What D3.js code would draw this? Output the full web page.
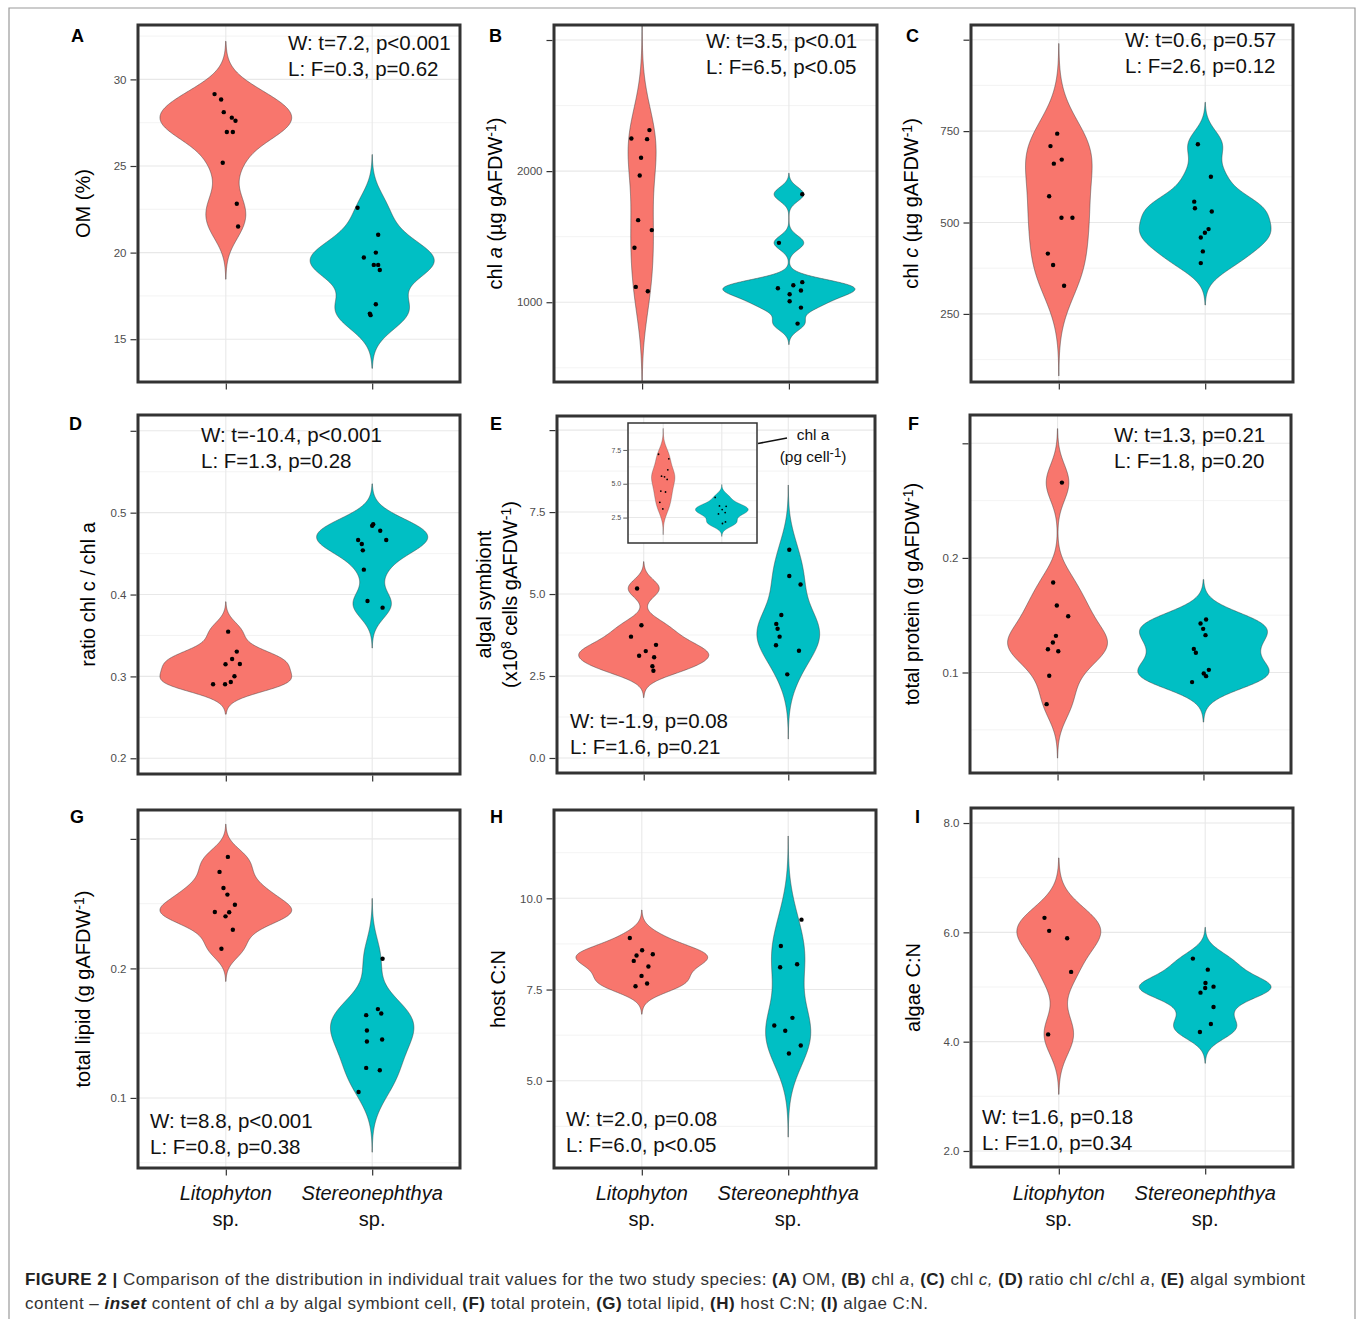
<!DOCTYPE html>
<html>
<head>
<meta charset="utf-8">
<script src="https://cdn.jsdelivr.net/npm/d3@7"></script>
<style>
  body { margin: 0; background: #fff; }
  svg { display: block; }
  text { font-family: "Liberation Sans", Arial, Helvetica, sans-serif; }
</style>
</head>
<body>
<script>
const width = 1358, height = 1319;
const species = ['Litophyton', 'Stereonephthya'];
const fills = ['#F8766D', '#00BFC4'];

// A: OM (%)
const omLito = [29.15, 28.84, 28.11, 27.79, 27.61, 26.96, 26.96, 25.19, 22.82, 21.51];
const omLitoJit = [-0.077, -0.032, -0.014, 0.041, 0.066, 0.007, 0.048, -0.021, 0.075, 0.084];
const omStereo = [22.59, 21.03, 20.0, 19.72, 19.29, 19.29, 19.0, 17.02, 16.48, 16.39];
const omStereoJit = [-0.100, 0.041, 0.025, -0.057, 0.011, 0.041, 0.052, 0.025, -0.016, -0.011];

// B: chl a
const chlaLito = [2249, 2313, 2244, 2102, 1967, 1626, 1550, 1415, 1117, 1084];
const chlaLitoJit = [-0.073, 0.05, 0.034, -0.007, -0.016, -0.027, 0.066, -0.052, -0.043, 0.039];
const chlaStereo = [1824, 1453, 1107, 1130, 1153, 1089, 1061, 1008, 959, 837];
const chlaStereoJit = [0.091, -0.068, -0.075, 0.030, 0.091, 0.082, 0.005, 0.005, 0.082, 0.059];

// C: chl c
const chlcLito = [743, 709, 672, 661, 572, 513, 513, 415, 384, 327];
const chlcLitoJit = [-0.011, -0.057, 0.020, -0.034, -0.066, 0.018, 0.093, -0.075, -0.039, 0.036];
const chlcStereo = [714, 625, 557, 539, 530, 482, 472, 459, 421, 389];
const chlcStereoJit = [-0.05, 0.039, -0.075, -0.07, 0.045, 0.023, -0.002, -0.03, -0.016, -0.03];

// D: ratio chl c / chl a
const ratioLito = [0.3547, 0.3303, 0.3213, 0.3148, 0.3152, 0.3002, 0.2932, 0.2904, 0.2904];
const ratioLitoJit = [0.016, 0.075, 0.043, -0.002, 0.096, 0.059, 0.034, -0.087, -0.005];
const ratioStereo = [0.4858, 0.4841, 0.478, 0.4666, 0.4666, 0.4617, 0.454, 0.4304, 0.3921, 0.384];
const ratioStereoJit = [0.007, 0, 0.055, 0.096, -0.096, -0.071, -0.064, -0.057, -0.032, 0.071];

// E: algal symbiont
const symLito = [5.17, 4.05, 3.70, 3.45, 3.26, 3.12, 3.07, 2.80, 2.66];
const symLitoJit = [-0.046, -0.016, -0.088, 0.085, 0.014, -0.032, 0.072, 0.06, 0.067];
const symStereo = [6.35, 5.55, 5.29, 4.36, 4.09, 3.94, 3.70, 3.44, 3.27, 2.55];
const symStereoJit = [0.007, 0.007, 0.085, -0.048, -0.083, -0.074, -0.06, -0.085, 0.074, -0.007];

// E inset: chl a per cell
const cellLito = [7.18, 6.84, 6.03, 5.56, 5.51, 5.32, 4.46, 4.39, 3.63, 3.14];
const cellLitoJit = [-0.079, 0.096, 0.079, -0.028, 0.023, 0.068, -0.04, 0.04, -0.057, -0.006];
const cellStereo = [3.99, 3.36, 3.33, 3.09, 2.87, 2.77, 2.18, 2.06];
const cellStereoJit = [-0.113, -0.040, 0.074, 0.006, 0.057, -0.057, 0.062, 0.011];

// F: total protein
const protLito = [0.2657, 0.1785, 0.1584, 0.1491, 0.132, 0.1262, 0.1203, 0.1186, 0.0971, 0.0724];
const protLitoJit = [0.03, -0.03, -0.005, 0.073, -0.011, -0.032, -0.066, 0.005, -0.057, -0.075];
const protStereo = [0.1462, 0.1427, 0.1381, 0.1326, 0.1206, 0.1172, 0.1023, 0.0991, 0.0968, 0.0916];
const protStereoJit = [0.018, -0.02, -0.002, 0.014, -0.066, -0.052, 0.037, 0.002, 0.018, -0.078];

// G: total lipid
const lipLito = [0.2861, 0.2745, 0.2621, 0.257, 0.2492, 0.2436, 0.2433, 0.2402, 0.2299, 0.2152];
const lipLitoJit = [0.014, -0.043, -0.016, 0.011, 0.062, -0.075, 0.023, -0.002, 0.048, -0.03];
const lipStereo = [0.2075, 0.1686, 0.1652, 0.1639, 0.1521, 0.1436, 0.1451, 0.1232, 0.1214, 0.1046];
const lipStereoJit = [0.071, 0.039, 0.062, -0.041, -0.036, -0.036, 0.068, -0.041, 0.052, -0.093];

// H: host C:N
const hostLito = [8.914, 8.577, 8.431, 8.467, 8.285, 8.13, 7.874, 7.664, 7.591];
const hostLitoJit = [-0.082, 0.002, -0.036, 0.075, -0.055, 0.045, -0.002, 0.036, -0.043];
const hostStereo = [9.416, 8.695, 8.111, 8.193, 6.724, 6.515, 6.369, 5.967, 5.748];
const hostStereoJit = [0.091, -0.05, -0.055, 0.061, 0.029, -0.095, -0.02, 0.086, 0.005];

// I: algae C:N
const algLito = [6.265, 6.027, 5.892, 5.276, 4.133];
const algLitoJit = [-0.098, -0.066, 0.057, 0.084, -0.073];
const algStereo = [5.52, 5.318, 5.074, 5.007, 4.982, 4.897, 4.634, 4.322, 4.176];
const algStereoJit = [-0.084, 0.018, 0.002, 0.057, 0, -0.032, 0.057, 0.039, -0.036];

// axis ticks (major with labels, minor grid)
const ticksA = [15, 20, 25, 30], labelsA = ['15', '20', '25', '30'], minorA = [17.5, 22.5, 27.5, 32.5];
const ticksB = [1000, 2000, 3000], labelsB = ['1000', '2000', ''], minorB = [500, 1500, 2500];
const ticksC = [250, 500, 750, 1000], labelsC = ['250', '500', '750', ''], minorC = [125, 375, 625, 875];
const ticksD = [0.2, 0.3, 0.4, 0.5, 0.6], labelsD = ['0.2', '0.3', '0.4', '0.5', ''], minorD = [0.25, 0.35, 0.45, 0.55];
const ticksE = [0, 2.5, 5, 7.5, 10], labelsE = ['0.0', '2.5', '5.0', '7.5', ''], minorE = [1.25, 3.75, 6.25, 8.75];
const ticksInset = [2.5, 5, 7.5], labelsInset = ['2.5', '5.0', '7.5'], minorInset = [1.25, 3.75, 6.25, 8.75];
const ticksF = [0.1, 0.2, 0.3], labelsF = ['0.1', '0.2', ''], minorF = [0.05, 0.15, 0.25];
const ticksG = [0.1, 0.2, 0.3], labelsG = ['0.1', '0.2', ''], minorG = [0.05, 0.15, 0.25];
const ticksH = [5, 7.5, 10], labelsH = ['5.0', '7.5', '10.0'], minorH = [3.75, 6.25, 8.75, 11.25];
const ticksI = [2, 4, 6, 8], labelsI = ['2.0', '4.0', '6.0', '8.0'], minorI = [3, 5, 7];

// test results
const statA = ['W: t=7.2, p<0.001', 'L: F=0.3, p=0.62'];
const statB = ['W: t=3.5, p<0.01', 'L: F=6.5, p<0.05'];
const statC = ['W: t=0.6, p=0.57', 'L: F=2.6, p=0.12'];
const statD = ['W: t=-10.4, p<0.001', 'L: F=1.3, p=0.28'];
const statE = ['W: t=-1.9, p=0.08', 'L: F=1.6, p=0.21'];
const statF = ['W: t=1.3, p=0.21', 'L: F=1.8, p=0.20'];
const statG = ['W: t=8.8, p<0.001', 'L: F=0.8, p=0.38'];
const statH = ['W: t=2.0, p=0.08', 'L: F=6.0, p<0.05'];
const statI = ['W: t=1.6, p=0.18', 'L: F=1.0, p=0.34'];

// y labels as rich-text segments: i = italic, s = superscript
const gAFDW = [{t: ' (µg gAFDW'}, {t: '-1', s: true}, {t: ')'}];
const ylabA = [[{t: 'OM (%)'}]];
const ylabB = [[{t: 'chl '}, {t: 'a', i: true}, ...gAFDW]];
const ylabC = [[{t: 'chl '}, {t: 'c', i: true}, ...gAFDW]];
const ylabD = [[{t: 'ratio chl c / chl a'}]];
const ylabE = [[{t: 'algal symbiont'}], [{t: '(x10'}, {t: '8', s: true}, {t: ' cells gAFDW'}, {t: '-1', s: true}, {t: ')'}]];
const ylabF = [[{t: 'total protein (g gAFDW'}, {t: '-1', s: true}, {t: ')'}]];
const ylabG = [[{t: 'total lipid (g gAFDW'}, {t: '-1', s: true}, {t: ')'}]];
const ylabH = [[{t: 'host C:N'}]];
const ylabI = [[{t: 'algae C:N'}]];

const panels = [
  {id: 'A', groups: [[omLito, omLitoJit], [omStereo, omStereoJit]], domain: [12.53, 33.14], ticks: ticksA, labels: labelsA, minor: minorA, stat: statA, ylab: ylabA,
   box: [138, 460, 25, 382], letter: [71, 42], labX: [83], statPos: [288, 50]},
  {id: 'B', groups: [[chlaLito, chlaLitoJit], [chlaStereo, chlaStereoJit]], domain: [391.6, 3114.5], ticks: ticksB, labels: labelsB, minor: minorB, stat: statB, ylab: ylabB,
   box: [554, 877, 25, 382], letter: [489, 42], labX: [495], statPos: [706, 48]},
  {id: 'C', groups: [[chlcLito, chlcLitoJit], [chlcStereo, chlcStereoJit]], domain: [63.8, 1040.2], ticks: ticksC, labels: labelsC, minor: minorC, stat: statC, ylab: ylabC,
   box: [971, 1293, 25, 382], letter: [906, 42], labX: [911], statPos: [1125, 47]},
  {id: 'D', groups: [[ratioLito, ratioLitoJit], [ratioStereo, ratioStereoJit]], domain: [0.1808, 0.6193], ticks: ticksD, labels: labelsD, minor: minorD, stat: statD, ylab: ylabD,
   box: [138, 460, 415, 774], letter: [69, 430], labX: [88], statPos: [201, 442]},
  {id: 'E', groups: [[symLito, symLitoJit], [symStereo, symStereoJit]], domain: [-0.458, 10.43], ticks: ticksE, labels: labelsE, minor: minorE, stat: statE, ylab: ylabE,
   box: [557, 875, 416, 773], letter: [490, 430], labX: [484, 510], statPos: [570, 728]},
  {id: 'F', groups: [[protLito, protLitoJit], [protStereo, protStereoJit]], domain: [0.0123, 0.3247], ticks: ticksF, labels: labelsF, minor: minorF, stat: statF, ylab: ylabF,
   box: [970, 1291, 415, 773], letter: [908, 430], labX: [912], statPos: [1114, 442]},
  {id: 'G', groups: [[lipLito, lipLitoJit], [lipStereo, lipStereoJit]], domain: [0.0459, 0.3223], ticks: ticksG, labels: labelsG, minor: minorG, stat: statG, ylab: ylabG,
   box: [138, 460, 810, 1168], letter: [70, 823], labX: [83], statPos: [150, 1128]},
  {id: 'H', groups: [[hostLito, hostLitoJit], [hostStereo, hostStereoJit]], domain: [2.61, 12.42], ticks: ticksH, labels: labelsH, minor: minorH, stat: statH, ylab: ylabH,
   box: [554, 876, 810, 1168], letter: [490, 823], labX: [498], statPos: [566, 1126]},
  {id: 'I', groups: [[algLito, algLitoJit], [algStereo, algStereoJit]], domain: [1.707, 8.275], ticks: ticksI, labels: labelsI, minor: minorI, stat: statI, ylab: ylabI,
   box: [971, 1293, 808, 1167], letter: [915, 823], labX: [913], statPos: [982, 1124]}
];

const inset = {id: 'inset', groups: [[cellLito, cellLitoJit], [cellStereo, cellStereoJit]], domain: [0.62, 9.49], ticks: ticksInset, labels: labelsInset, minor: minorInset,
  box: [628, 757, 423, 543], small: true};

const svg = d3.select('body').append('svg').attr('width', width).attr('height', height);

// R's bw.nrd0
function bwNrd0(v) {
  const s = [...v].sort(d3.ascending);
  const iqr = d3.quantile(s, 0.75) - d3.quantile(s, 0.25);
  let lo = Math.min(d3.deviation(s), iqr / 1.34);
  if (!lo) lo = d3.deviation(s) || Math.abs(s[0]) || 1;
  return 0.9 * lo * Math.pow(s.length, -0.2);
}

// gaussian kernel density, untrimmed (cut = 3 bandwidths), like geom_violin(trim = FALSE)
function density(v) {
  const bw = bwNrd0(v);
  const lo = d3.min(v) - 3 * bw, hi = d3.max(v) + 3 * bw;
  return d3.range(512).map(i => {
    const y = lo + (hi - lo) * i / 511;
    const d = d3.mean(v, x => Math.exp(-0.5 * ((y - x) / bw) ** 2)) / (bw * Math.sqrt(2 * Math.PI));
    return {y, d};
  });
}

function richText(sel, segs, size) {
  segs.forEach(s => {
    const t = sel.append('tspan').text(s.t);
    if (s.i) t.attr('font-style', 'italic');
    if (s.s) t.attr('font-size', size * 0.7).attr('baseline-shift', '45%');
  });
}

function drawPanel(p) {
  const [x0, x1, y0, y1] = p.box;
  const sm = !!p.small;
  const g = svg.append('g');
  const x = d3.scalePoint().domain(species).range([x0, x1]).padding(0.6);
  const y = d3.scaleLinear().domain(p.domain).range([y1, y0]);
  const clipId = 'clip' + p.id;
  g.append('clipPath').attr('id', clipId).append('rect')
    .attr('x', x0).attr('y', y0).attr('width', x1 - x0).attr('height', y1 - y0);

  g.append('rect').attr('x', x0).attr('y', y0).attr('width', x1 - x0).attr('height', y1 - y0).attr('fill', '#fff');

  const grid = g.append('g').attr('clip-path', `url(#${clipId})`);
  grid.selectAll('.minor').data(p.minor).join('line')
    .attr('x1', x0).attr('x2', x1).attr('y1', d => y(d)).attr('y2', d => y(d))
    .attr('stroke', '#f0f0f0').attr('stroke-width', 0.8);
  grid.selectAll('.major').data(p.ticks).join('line')
    .attr('x1', x0).attr('x2', x1).attr('y1', d => y(d)).attr('y2', d => y(d))
    .attr('stroke', '#e8e8e8').attr('stroke-width', 1.1);
  grid.selectAll('.vmajor').data(species).join('line')
    .attr('x1', d => x(d)).attr('x2', d => x(d)).attr('y1', y0).attr('y2', y1)
    .attr('stroke', '#e8e8e8').attr('stroke-width', 1.1);

  // violins, scale = "area": widths relative to the largest density in the panel
  const dens = p.groups.map(([vals]) => density(vals));
  const dmax = d3.max(dens, ds => d3.max(ds, e => e.d));
  const half = x.step() * 0.45;
  const body = g.append('g').attr('clip-path', `url(#${clipId})`);
  dens.forEach((ds, k) => {
    const cx = x(species[k]);
    const area = d3.area()
      .y(e => y(e.y))
      .x0(e => cx - half * e.d / dmax)
      .x1(e => cx + half * e.d / dmax);
    body.append('path').attr('d', area(ds))
      .attr('fill', fills[k]).attr('stroke', '#3a3a3a').attr('stroke-width', sm ? 0.3 : 0.5);
  });

  p.groups.forEach(([vals, jit], k) => {
    body.selectAll(null).data(vals).join('circle')
      .attr('cx', (d, i) => x(species[k]) + jit[i] * x.step())
      .attr('cy', d => y(d))
      .attr('r', sm ? 0.9 : 2.2)
      .attr('fill', '#000');
  });

  // y axis
  const yAxis = g.append('g').attr('transform', `translate(${x0 - (sm ? 0.75 : 1.5)},0)`)
    .call(d3.axisLeft(y).tickValues(p.ticks).tickFormat((d, i) => p.labels[i])
      .tickSize(sm ? 4 : 6).tickPadding(sm ? 2 : 4));
  yAxis.select('.domain').remove();
  yAxis.selectAll('line').attr('stroke', '#333').attr('stroke-width', sm ? 0.8 : 1.2);
  yAxis.selectAll('text').attr('fill', '#4d4d4d').attr('font-size', sm ? 7 : 11.5)
    .attr('font-family', '"Liberation Sans", Arial, sans-serif');

  if (!sm) {
    const xAxis = g.append('g').attr('transform', `translate(0,${y1 + 1.5})`)
      .call(d3.axisBottom(x).tickFormat('').tickSize(6));
    xAxis.select('.domain').remove();
    xAxis.selectAll('line').attr('stroke', '#333').attr('stroke-width', 1.2);
  }

  g.append('rect').attr('x', x0).attr('y', y0).attr('width', x1 - x0).attr('height', y1 - y0)
    .attr('fill', 'none').attr('stroke', '#333').attr('stroke-width', sm ? 1.5 : 3);

  if (sm) return;

  g.append('text').attr('x', p.letter[0]).attr('y', p.letter[1])
    .attr('font-size', 18).attr('font-weight', 'bold').attr('fill', '#000').text(p.id);

  const cy = (y0 + y1) / 2;
  p.ylab.forEach((segs, li) => {
    const t = g.append('text')
      .attr('transform', `translate(${p.labX[li]},${cy}) rotate(-90)`)
      .attr('text-anchor', 'middle').attr('dy', '0.35em')
      .attr('font-size', 20).attr('fill', '#000');
    richText(t, segs, 20);
  });

  g.selectAll('.stat').data(p.stat).join('text')
    .attr('x', p.statPos[0]).attr('y', (d, i) => p.statPos[1] + i * 25.5)
    .attr('font-size', 20.5).attr('fill', '#111').text(d => d);

  // species labels under bottom row
  if (y1 > 1100) {
    species.forEach(s => {
      g.append('text').attr('x', x(s)).attr('y', 1200).attr('text-anchor', 'middle')
        .attr('font-size', 20).attr('font-style', 'italic').attr('fill', '#111').text(s);
      g.append('text').attr('x', x(s)).attr('y', 1226).attr('text-anchor', 'middle')
        .attr('font-size', 20).attr('fill', '#111').text('sp.');
    });
  }
}

// page frame
svg.append('path').attr('d', `M9,${height} V8 H1355 V${height}`)
  .attr('fill', 'none').attr('stroke', '#9a9a9a').attr('stroke-width', 1.2);

panels.forEach(drawPanel);
drawPanel(inset);

// inset callout
svg.append('line').attr('x1', 758).attr('y1', 443.5).attr('x2', 787).attr('y2', 438)
  .attr('stroke', '#111').attr('stroke-width', 1.6);
svg.append('text').attr('x', 813).attr('y', 440).attr('text-anchor', 'middle')
  .attr('font-size', 15.5).attr('fill', '#111').text('chl a');
const unit = svg.append('text').attr('x', 813).attr('y', 462).attr('text-anchor', 'middle')
  .attr('font-size', 15.5).attr('fill', '#111');
unit.append('tspan').text('(pg cell');
unit.append('tspan').attr('font-size', 13).attr('baseline-shift', '40%').text('-1');
unit.append('tspan').text(')');

// caption
const caption1 = [
  {t: 'FIGURE 2 | ', b: true}, {t: 'Comparison of the distribution in individual trait values for the two study species: '},
  {t: '(A)', b: true}, {t: ' OM, '}, {t: '(B)', b: true}, {t: ' chl '}, {t: 'a', i: true}, {t: ', '},
  {t: '(C)', b: true}, {t: ' chl '}, {t: 'c,', i: true}, {t: ' '}, {t: '(D)', b: true}, {t: ' ratio chl '},
  {t: 'c', i: true}, {t: '/chl '}, {t: 'a', i: true}, {t: ', '}, {t: '(E)', b: true}, {t: ' algal symbiont'}
];
const caption2 = [
  {t: 'content – '}, {t: 'inset', b: true, i: true}, {t: ' content of chl '}, {t: 'a', i: true},
  {t: ' by algal symbiont cell, '}, {t: '(F)', b: true}, {t: ' total protein, '}, {t: '(G)', b: true},
  {t: ' total lipid, '}, {t: '(H)', b: true}, {t: ' host C:N; '}, {t: '(I)', b: true}, {t: ' algae C:N.'}
];
const captionWidths = [1280, 903];
[caption1, caption2].forEach((segs, li) => {
  const t = svg.append('text').attr('x', 25).attr('y', 1285 + li * 24)
    .attr('font-size', 17).attr('fill', '#333')
    .attr('textLength', captionWidths[li]).attr('lengthAdjust', 'spacing');
  segs.forEach(s => {
    const sp = t.append('tspan').text(s.t);
    if (s.b) sp.attr('font-weight', 'bold').attr('fill', '#222');
    if (s.i) sp.attr('font-style', 'italic');
  });
});
</script>
</body>
</html>
